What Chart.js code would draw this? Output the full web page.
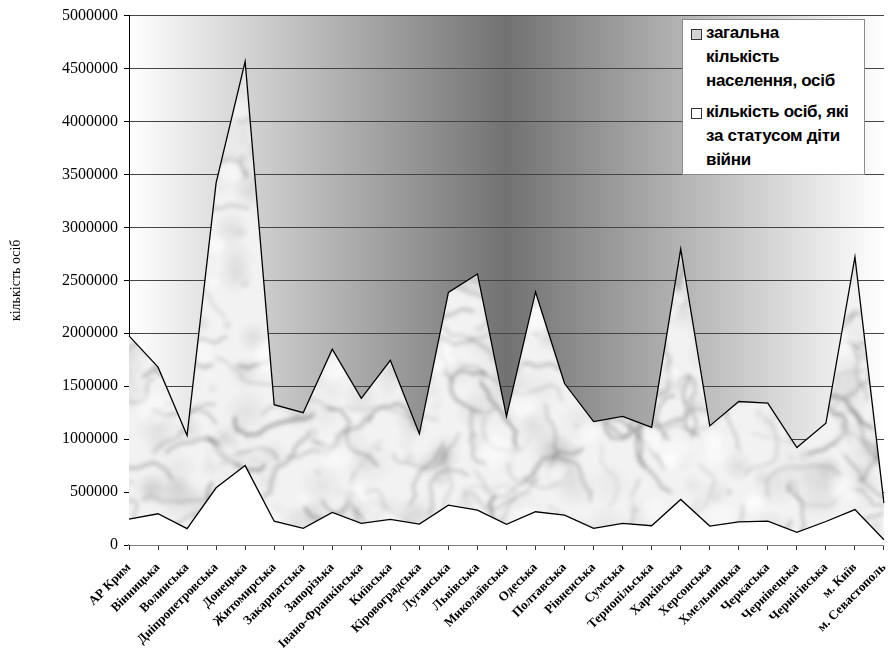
<!DOCTYPE html>
<html>
<head>
<meta charset="utf-8">
<script src="https://cdn.jsdelivr.net/npm/chart.js@4.4.0/dist/chart.umd.min.js"></script>
<style>
  html, body { margin: 0; padding: 0; background: #fff; overflow: hidden; }
  #wrap { position: relative; width: 891px; height: 661px; overflow: hidden; }
  #c { position: absolute; left: 0; top: 0; }
  #legend {
    position: absolute; left: 682px; top: 19px; width: 183px; height: 156px;
    background: #fff; border: 1px solid #8a8a8a; box-sizing: border-box;
    font: bold 17px "Liberation Sans", Arial, sans-serif; color: #000;
    line-height: 24px; letter-spacing: -0.3px;
  }
  .item { position: absolute; left: 23px; }
  .box { position: absolute; left: -15px; top: 8px; width: 9px; height: 9px; border: 1px solid #333; }
  #fontwarm { position: absolute; left: -999px; top: 0; font-family: "Liberation Serif"; }
</style>
</head>
<body>
<div id="wrap">
  <canvas id="c" width="905" height="661"></canvas>
  <div id="legend">
    <div class="item" style="top:1px"><span class="box" style="background:#d4d4d4"></span>загальна<br>кількість<br>населення, осіб</div>
    <div class="item" style="top:80px"><span class="box" style="background:#fff"></span>кількість осіб, які<br>за статусом діти<br>війни</div>
  </div>
</div>
<span id="fontwarm">0123 кількість <b>АР Крим</b></span>
<script>
// Categories (regions) and values
const categories = ['АР Крим', 'Вінницька', 'Волинська', 'Дніпропетровська', 'Донецька',
  'Житомирська', 'Закарпатська', 'Запорізька', 'Івано-Франківська', 'Київська',
  'Кіровоградська', 'Луганська', 'Львівська', 'Миколаївська', 'Одеська', 'Полтавська',
  'Рівненська', 'Сумська', 'Тернопільська', 'Харківська', 'Херсонська', 'Хмельницька',
  'Черкаська', 'Чернівецька', 'Чернігівська', 'м. Київ', 'м. Севастополь'];

const totalPopulation = [1975000, 1680000, 1035000, 3420000, 4565000, 1325000, 1250000, 1850000,
  1385000, 1745000, 1050000, 2385000, 2560000, 1215000, 2390000, 1525000, 1165000, 1215000,
  1110000, 2795000, 1125000, 1355000, 1340000, 920000, 1150000, 2720000, 395000];

const childrenOfWar = [245000, 295000, 155000, 540000, 750000, 225000, 157000, 308000, 204000,
  242000, 198000, 377000, 330000, 195000, 314000, 282000, 157000, 204000, 182000, 430000,
  179000, 219000, 226000, 120000, 222000, 335000, 50000];

const yTicks = [0, 500000, 1000000, 1500000, 2000000, 2500000, 3000000, 3500000, 4000000, 4500000, 5000000];

const SERIF = 'Liberation Serif';

// Marble-like texture for the total population area (seeded, purely decorative)
function makeMarble(w, h) {
  const c = document.createElement('canvas');
  c.width = w; c.height = h;
  const g = c.getContext('2d');
  g.fillStyle = '#f2f2f2';
  g.fillRect(0, 0, w, h);
  let seed = 24680;
  const rnd = () => (seed = (seed * 16807) % 2147483647) / 2147483647;
  // soft clouds
  for (let i = 0; i < 900; i++) {
    const x = rnd() * w, y = rnd() * h, r = 5 + rnd() * 20;
    const gr = g.createRadialGradient(x, y, 0, x, y, r);
    const a = 0.05 + rnd() * 0.13;
    gr.addColorStop(0, 'rgba(125,125,125,' + a + ')');
    gr.addColorStop(1, 'rgba(125,125,125,0)');
    g.fillStyle = gr;
    g.fillRect(x - r, y - r, 2 * r, 2 * r);
  }
  // wavy veins
  g.filter = 'blur(2px)';
  g.lineCap = 'round';
  g.lineJoin = 'round';
  for (let i = 0; i < 380; i++) {
    let x = rnd() * w, y = rnd() * h;
    let ang = rnd() * Math.PI * 2;
    g.beginPath();
    g.moveTo(x, y);
    for (let k = 0; k < 7; k++) {
      ang += (rnd() - 0.5) * 1.8;
      const len = 5 + rnd() * 11;
      const cx = x + Math.cos(ang) * len * 0.5 + (rnd() - 0.5) * 6;
      const cy = y + Math.sin(ang) * len * 0.5 + (rnd() - 0.5) * 6;
      x += Math.cos(ang) * len;
      y += Math.sin(ang) * len;
      g.quadraticCurveTo(cx, cy, x, y);
    }
    g.strokeStyle = 'rgba(100,100,100,' + (0.2 + rnd() * 0.35) + ')';
    g.lineWidth = 1.2 + rnd() * 2.5;
    g.stroke();
  }
  // a few white highlights to keep it marble-like
  g.filter = 'blur(3px)';
  for (let i = 0; i < 160; i++) {
    const x = rnd() * w, y = rnd() * h, r = 4 + rnd() * 12;
    g.fillStyle = 'rgba(255,255,255,' + (0.35 + rnd() * 0.4) + ')';
    g.beginPath();
    g.arc(x, y, r, 0, Math.PI * 2);
    g.fill();
  }
  g.filter = 'none';
  return c;
}

// Plot area background: white -> dark grey -> white
const plotBackground = {
  id: 'plotBackground',
  beforeDraw(chart) {
    const a = chart.chartArea;
    const c = chart.ctx;
    const gr = c.createLinearGradient(a.left, 0, a.right, 0);
    gr.addColorStop(0, '#ffffff');
    gr.addColorStop(0.5, '#727272');
    gr.addColorStop(1, '#ffffff');
    c.save();
    c.fillStyle = gr;
    c.fillRect(a.left, a.top, a.right - a.left, a.bottom - a.top);
    c.restore();
  }
};

function drawChart() {
  const canvas = document.getElementById('c');
  const ctx = canvas.getContext('2d');
  const marble = ctx.createPattern(makeMarble(905, 661), 'repeat');

  new Chart(ctx, {
    type: 'line',
    data: {
      labels: categories,
      datasets: [
        {
          label: 'загальна кількість населення, осіб',
          data: totalPopulation,
          backgroundColor: marble,
          borderColor: '#000',
          borderWidth: 1.3,
          fill: 'origin',
          pointRadius: 0,
          tension: 0,
          order: 1
        },
        {
          label: 'кількість осіб, які за статусом діти війни',
          data: childrenOfWar,
          backgroundColor: '#ffffff',
          borderColor: '#000',
          borderWidth: 1.3,
          fill: 'origin',
          pointRadius: 0,
          tension: 0,
          order: 0
        }
      ]
    },
    options: {
      responsive: false,
      animation: false,
      devicePixelRatio: 1,
      layout: { padding: { top: 14, right: 6, left: 0, bottom: 0 } },
      plugins: {
        legend: { display: false },
        tooltip: { enabled: false }
      },
      scales: {
        x: {
          offset: false,
          grid: { drawOnChartArea: false, drawTicks: true, tickLength: 5, tickColor: '#333' },
          border: { color: '#808080', width: 2 },
          ticks: {
            autoSkip: false,
            minRotation: 45,
            maxRotation: 45,
            padding: 10,
            color: '#000',
            font: { family: SERIF, size: 13, weight: 'bold' }
          },
          afterFit(scale) { scale.height = 116; }
        },
        y: {
          min: 0,
          max: 5000000,
          afterBuildTicks(scale) { scale.ticks = yTicks.map(v => ({ value: v })); },
          grid: { color: '#444', lineWidth: 1, tickLength: 5, tickColor: '#000' },
          border: { color: '#000', width: 1 },
          ticks: {
            padding: 6,
            color: '#000',
            font: { family: SERIF, size: 16 },
            callback: v => String(v)
          },
          title: {
            display: true,
            text: 'кількість осіб',
            color: '#000',
            padding: { top: 8, bottom: 0 },
            font: { family: SERIF, size: 14, weight: 'normal' }
          },
          afterFit(scale) { scale.width = 129; }
        }
      }
    },
    plugins: [plotBackground]
  });
}

Promise.all([
  document.fonts.load('16px "Liberation Serif"'),
  document.fonts.load('bold 13px "Liberation Serif"')
]).then(drawChart, drawChart);
</script>
</body>
</html>
